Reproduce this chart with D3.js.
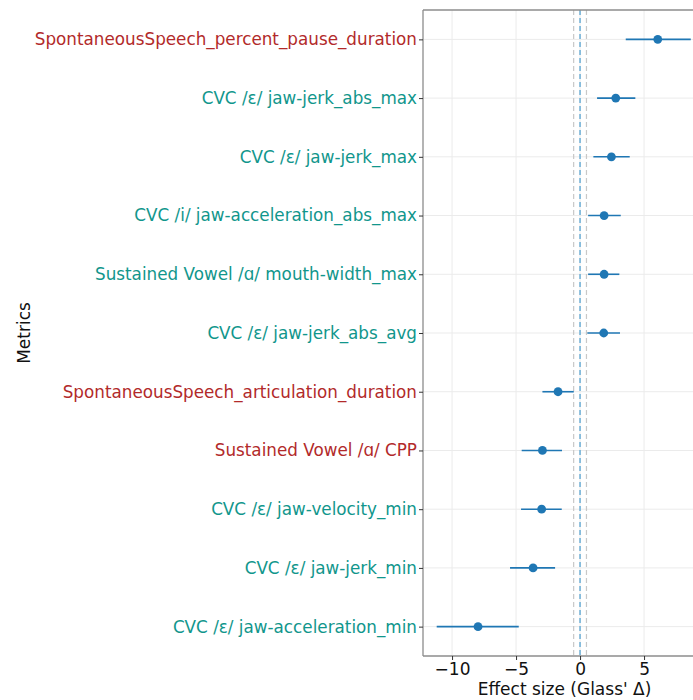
<!DOCTYPE html>
<html>
<head>
<meta charset="utf-8">
<script src="https://cdn.jsdelivr.net/npm/d3@7"></script>
<style>
  html, body { margin: 0; padding: 0; background: #fff; }
  svg { display: block; font-family: "DejaVu Sans", sans-serif; }
</style>
</head>
<body>
<svg id="chart" width="693" height="700"></svg>
<script>
const metrics = [
  "SpontaneousSpeech_percent_pause_duration",
  "CVC /ɛ/ jaw-jerk_abs_max",
  "CVC /ɛ/ jaw-jerk_max",
  "CVC /i/ jaw-acceleration_abs_max",
  "Sustained Vowel /ɑ/ mouth-width_max",
  "CVC /ɛ/ jaw-jerk_abs_avg",
  "SpontaneousSpeech_articulation_duration",
  "Sustained Vowel /ɑ/ CPP",
  "CVC /ɛ/ jaw-velocity_min",
  "CVC /ɛ/ jaw-jerk_min",
  "CVC /ɛ/ jaw-acceleration_min"
];
const effect = [6.07, 2.79, 2.45, 1.88, 1.88, 1.85, -1.72, -2.94, -3.0, -3.67, -7.97];
const ciLow  = [3.57, 1.33, 1.04, 0.63, 0.63, 0.57, -2.94, -4.56, -4.61, -5.47, -11.2];
const ciHigh = [8.65, 4.32, 3.88, 3.18, 3.07, 3.12, -0.49, -1.41, -1.43, -1.95, -4.79];
const labelGroup = ["speech", "kin", "kin", "kin", "kin", "kin", "speech", "speech", "kin", "kin", "kin"];
const xTicks = [-10, -5, 0, 5];
const refLines = [-0.5, 0, 0.5];

(function () {
const colorFor = { speech: "#b22a2a", kin: "#11968c" };

const svg = d3.select("#chart");
const pLeft = 423, pRight = 706, pTop = 10, pBottom = 656;

const x = d3.scaleLinear().domain([-12.27, 9.84]).range([pLeft, pRight]);
const y = d3.scalePoint().domain(metrics).range([pTop, pBottom]).padding(0.5);

const g = svg.append("g");

// grid
g.selectAll("line.vgrid").data(xTicks).join("line")
  .attr("x1", d => x(d)).attr("x2", d => x(d))
  .attr("y1", pTop).attr("y2", pBottom)
  .attr("stroke", "#ebebeb").attr("stroke-width", 1);
g.selectAll("line.hgrid").data(metrics).join("line")
  .attr("x1", pLeft).attr("x2", pRight)
  .attr("y1", d => y(d)).attr("y2", d => y(d))
  .attr("stroke", "#ebebeb").attr("stroke-width", 1);

// reference lines
g.selectAll("line.ref").data(refLines).join("line")
  .attr("x1", d => x(d)).attr("x2", d => x(d))
  .attr("y1", pTop).attr("y2", pBottom)
  .attr("stroke", d => d === 0 ? "#6baed6" : "#c8c8c8")
  .attr("stroke-width", d => d === 0 ? 1.5 : 1.2)
  .attr("stroke-dasharray", "5,3");

// error bars
const rows = metrics.map((m, i) => ({ m, e: effect[i], lo: ciLow[i], hi: ciHigh[i] }));
g.selectAll("line.ci").data(rows).join("line")
  .attr("x1", d => x(d.lo)).attr("x2", d => x(d.hi))
  .attr("y1", d => y(d.m)).attr("y2", d => y(d.m))
  .attr("stroke", "#1f77b4").attr("stroke-width", 1.6);
g.selectAll("circle.pt").data(rows).join("circle")
  .attr("cx", d => x(d.e)).attr("cy", d => y(d.m)).attr("r", 4.4)
  .attr("fill", "#1f77b4");

// spines
const spine = "#8c8c8c";
g.append("line").attr("x1", pLeft).attr("x2", pLeft).attr("y1", pTop).attr("y2", pBottom)
  .attr("stroke", spine).attr("stroke-width", 1.3);
g.append("line").attr("x1", pLeft).attr("x2", pRight).attr("y1", pTop).attr("y2", pTop)
  .attr("stroke", spine).attr("stroke-width", 1.3);
g.append("line").attr("x1", pLeft).attr("x2", pRight).attr("y1", pBottom).attr("y2", pBottom)
  .attr("stroke", spine).attr("stroke-width", 1.3);

// axes
const xAxis = d3.axisBottom(x).tickValues(xTicks).tickSize(4).tickPadding(3)
  .tickFormat(d => d < 0 ? "\u2212" + Math.abs(d) : String(d));
const xa = svg.append("g").attr("transform", `translate(0,${pBottom})`).call(xAxis);
xa.select(".domain").remove();
xa.selectAll(".tick line").attr("stroke", "#333");
xa.selectAll(".tick text").attr("font-size", 17).attr("fill", "#111")
  .attr("font-family", "DejaVu Sans, sans-serif");

const yAxis = d3.axisLeft(y).tickSize(4).tickPadding(2);
const ya = svg.append("g").attr("transform", `translate(${pLeft},0)`).call(yAxis);
ya.select(".domain").remove();
ya.selectAll(".tick line").attr("stroke", "#333");
ya.selectAll(".tick text").attr("font-size", 16.8)
  .attr("font-family", "DejaVu Sans, sans-serif")
  .attr("fill", (d, i) => colorFor[labelGroup[i]]);

// axis titles
svg.append("text").attr("x", (pLeft + pRight) / 2).attr("y", 695)
  .attr("text-anchor", "middle").attr("font-size", 17).attr("fill", "#111")
  .text("Effect size (Glass' \u0394)");
svg.append("text")
  .attr("transform", `translate(30,${(pTop + pBottom) / 2}) rotate(-90)`)
  .attr("text-anchor", "middle").attr("font-size", 17).attr("fill", "#111")
  .text("Metrics");
})();
</script>
</body>
</html>
